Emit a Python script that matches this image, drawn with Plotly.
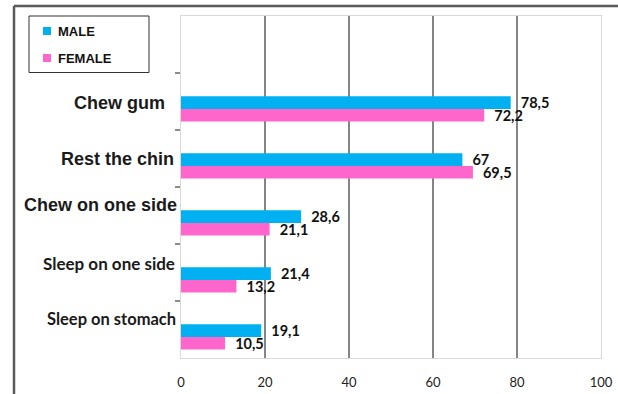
import plotly.graph_objects as go

categories = ["Chew gum", "Rest the chin", "Chew on one side", "Sleep on one side", "Sleep on stomach"]
male = [78.5, 67, 28.6, 21.4, 19.1]
female = [72.2, 69.5, 21.1, 13.2, 10.5]
series_names = ["MALE", "FEMALE"]
series_colors = ["#00b0f0", "#ff66cc"]
x_ticks = [0, 20, 40, 60, 80, 100]

W, H = 618, 394
L, R, T, B = 181, 17, 16, 36
PW, PH = W - L - R, H - T - B


def px(xp):
    return (xp - L) / PW


def py(yp):
    return (H - B - yp) / PH


# label styles (font, shifts) per category
label_styles = [
    dict(family="Liberation Sans", size=18, xshift=-14, yshift=-1),
    dict(family="Liberation Sans", size=18, xshift=-5, yshift=0),
    dict(family="Liberation Sans", size=18, xshift=-2, yshift=11),
    dict(family="Lato", size=17, xshift=-4, yshift=9),
    dict(family="Lato", size=16.5, xshift=-3, yshift=11),
]

fig = go.Figure()
for name, vals, color, off in zip(series_names, [male, female], series_colors, [-0.09, 0.13]):
    fig.add_trace(go.Bar(
        y=categories, x=vals, orientation="h", name=name,
        marker=dict(color=color, line=dict(width=0)),
        width=0.22, offset=off,
        texttemplate="\u00a0\u00a0%{x}", textposition="outside",
        textfont=dict(family="Lato", size=14.5, color="#111111", weight="bold"),
        constraintext="none", cliponaxis=False, showlegend=False,
    ))

annotations = []
for cat, st in zip(categories, label_styles):
    annotations.append(dict(
        x=0, xref="paper", y=cat, yref="y", text=cat, showarrow=False,
        xanchor="right", yanchor="middle", xshift=st["xshift"], yshift=st["yshift"],
        font=dict(family=st["family"], size=st["size"], color="#1a1a1a", weight="bold"),
    ))

shapes = [
    # outer frame (top + left)
    dict(type="line", xref="paper", yref="paper", x0=px(14), x1=px(640), y0=py(6), y1=py(6),
         line=dict(color="#5a5a5a", width=2.5)),
    dict(type="line", xref="paper", yref="paper", x0=px(14), x1=px(14), y0=py(6), y1=py(420),
         line=dict(color="#5a5a5a", width=2.5)),
    # legend box
    dict(type="rect", xref="paper", yref="paper", x0=px(29), x1=px(149), y0=py(16), y1=py(72.5),
         line=dict(color="#333333", width=1), fillcolor="white", layer="above"),
]

# legend entries (key squares + names)
legend_rows = [31, 58]
for name, color, yc in zip(series_names, series_colors, legend_rows):
    shapes.append(dict(type="rect", xref="paper", yref="paper",
                       x0=px(43), x1=px(51), y0=py(yc + 4), y1=py(yc - 4),
                       line=dict(width=0), fillcolor=color, layer="above"))
    annotations.append(dict(
        x=px(56), xref="paper", y=py(yc), yref="paper", text=name, showarrow=False,
        xanchor="left", yanchor="middle",
        font=dict(family="Liberation Sans", size=13, color="#111111", weight="bold"),
    ))

fig.update_layout(
    width=W, height=H,
    margin=dict(l=L, r=R, t=T, b=B, autoexpand=False),
    paper_bgcolor="white", plot_bgcolor="white",
    separators=",.",
    barmode="overlay",
    showlegend=False,
    xaxis=dict(
        range=[0, 100], tickvals=x_ticks, ticktext=[str(v) for v in x_ticks],
        showgrid=False,
        minor=dict(tickvals=[20, 40, 60, 80], showgrid=True, gridcolor="#858585", gridwidth=2, ticks=""),
        showline=True, linecolor="#d9d9d9", linewidth=1, mirror=True,
        ticks="", zeroline=False, automargin=False,
        tickfont=dict(family="Lato", size=13, color="#222222"),
        ticklabelstandoff=12,
    ),
    yaxis=dict(
        categoryorder="array", categoryarray=categories,
        range=[4.5, -1.5], showticklabels=False,
        showgrid=False, zeroline=False, automargin=False,
        showline=True, linecolor="#d9d9d9", linewidth=1, mirror=True,
        ticks="outside", tickson="boundaries", ticklen=5, tickcolor="#8c8c8c", tickwidth=1.5,
    ),
    annotations=annotations,
    shapes=shapes,
)

fig.write_html("out.html")
